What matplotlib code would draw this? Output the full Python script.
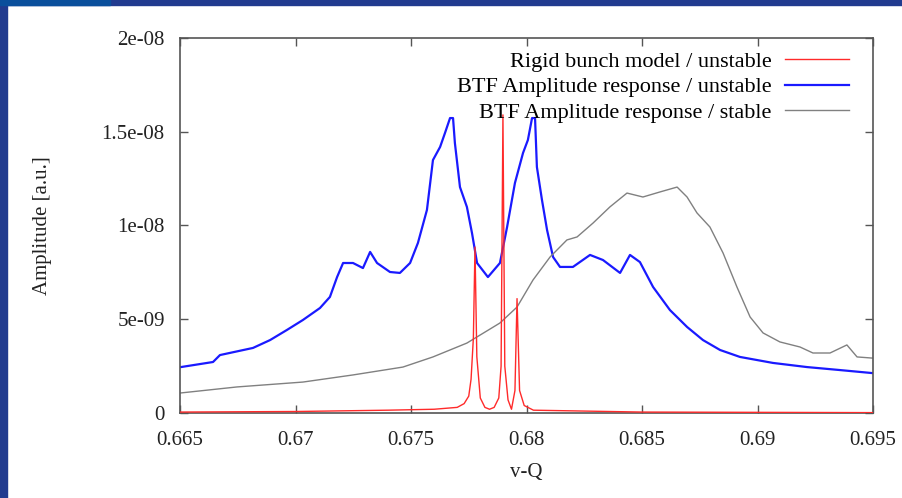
import matplotlib
matplotlib.use("Agg")
import matplotlib.pyplot as plt
from matplotlib.patches import Rectangle

# values (amplitudes in units of 1e-9)
blue_x = [0.66504, 0.66643, 0.66673, 0.66816, 0.66890, 0.66963, 0.67032, 0.67106,
          0.67149, 0.67180, 0.67206, 0.67249, 0.67292, 0.67323, 0.67353, 0.67409,
          0.67452, 0.67496, 0.67530, 0.67569, 0.67595, 0.67626, 0.67647, 0.67669,
          0.67682, 0.67690, 0.67712, 0.67742, 0.67764, 0.67786, 0.67833, 0.67885,
          0.67916, 0.67950, 0.67985, 0.68006, 0.68024, 0.68037, 0.68045, 0.68067,
          0.68089, 0.68115, 0.68145, 0.68201, 0.68275, 0.68331, 0.68405, 0.68448,
          0.68491, 0.68548, 0.68621, 0.68695, 0.68764, 0.68838, 0.68924, 0.69067,
          0.69214, 0.69357, 0.69496]
blue_y = [2.45, 2.72, 3.09, 3.47, 3.89, 4.43, 4.96, 5.60,
          6.19, 7.25, 8.00, 8.00, 7.73, 8.59, 8.00, 7.52,
          7.47, 8.00, 9.07, 10.83, 13.49, 14.19, 14.93, 15.73,
          15.73, 14.40, 12.05, 10.99, 9.60, 8.00, 7.25, 8.00,
          9.92, 12.27, 13.87, 14.56, 15.73, 15.73, 13.12, 11.36,
          9.76, 8.32, 7.79, 7.79, 8.43, 8.16, 7.47, 8.43,
          8.05, 6.72, 5.49, 4.59, 3.89, 3.36, 2.99, 2.67,
          2.45, 2.29, 2.13]

gray_x = [0.66504, 0.66747, 0.67032, 0.67249, 0.67465, 0.67595, 0.67742, 0.67885,
          0.67959, 0.68028, 0.68102, 0.68175, 0.68219, 0.68288, 0.68361, 0.68435,
          0.68504, 0.68578, 0.68652, 0.68695, 0.68738, 0.68794, 0.68851, 0.68911,
          0.68968, 0.69024, 0.69097, 0.69184, 0.69240, 0.69314, 0.69387, 0.69431,
          0.69496]
gray_y = [1.07, 1.39, 1.65, 2.03, 2.45, 2.99, 3.73, 4.80,
          5.65, 7.09, 8.32, 9.23, 9.39, 10.13, 10.99, 11.73,
          11.52, 11.79, 12.05, 11.52, 10.67, 9.92, 8.53, 6.72,
          5.12, 4.27, 3.79, 3.52, 3.20, 3.20, 3.63, 2.99,
          2.93]

red_x = [0.6650, 0.6700, 0.6740, 0.6760, 0.6770, 0.6773, 0.6775, 0.6776, 0.67770,
         0.67777, 0.67785, 0.6780, 0.6782, 0.6784, 0.6786, 0.6788, 0.67890,
         0.67898, 0.67906, 0.6792, 0.67935, 0.6795, 0.67959, 0.6797, 0.6799,
         0.6803, 0.6850, 0.6950]
red_y = [0.05, 0.08, 0.15, 0.2, 0.3, 0.5, 0.9, 1.8, 4.0,
         8.85, 3.0, 0.8, 0.3, 0.2, 0.3, 0.8, 2.5,
         15.9, 2.5, 0.7, 0.2, 1.2, 6.1, 1.2, 0.4,
         0.15, 0.05, 0.02]

labels = ["Rigid bunch model / unstable",
          "BTF Amplitude response / unstable",
          "BTF Amplitude response / stable"]
yticks = [0, 5e-9, 1e-8, 1.5e-8, 2e-8]
yticklabels = ["0", "5e-09", "1e-08", "1.5e-08", "2e-08"]
xticks = [0.665, 0.67, 0.675, 0.68, 0.685, 0.69, 0.695]

plt.rcParams['font.family'] = ['Liberation Serif', 'DejaVu Serif']

fig = plt.figure(figsize=(9.03, 4.98), dpi=100)
fig.patch.set_facecolor('white')
# slide border
fig.patches.append(Rectangle((0, 0), 7 / 903, 1, transform=fig.transFigure,
                             color='#213b8f', zorder=0))
fig.patches.append(Rectangle((0, 1 - 5 / 498), 1, 5 / 498, transform=fig.transFigure,
                             color='#213b8f', zorder=0))
fig.patches.append(Rectangle((0, 1 - 5 / 498), 110 / 903, 5 / 498, transform=fig.transFigure,
                             color='#0a4f9c', zorder=0))

ax = fig.add_axes([180 / 903, 1 - 413 / 498, 693 / 903, 375 / 498])

s = 1e-9
ax.plot(red_x, [v * s for v in red_y], color='#ff2a2a', lw=1.0, label=labels[0], zorder=3)
ax.plot(blue_x, [v * s for v in blue_y], color='#1a1aff', lw=1.6, label=labels[1], zorder=2)
ax.plot(gray_x, [v * s for v in gray_y], color='#808080', lw=1.0, label=labels[2], zorder=2)

ax.set_xlim(0.665, 0.695)
ax.set_ylim(0, 2e-8)
ax.set_xticks(xticks)
ax.set_xticklabels([f"{t:g}" for t in xticks])
ax.set_yticks(yticks)
ax.set_yticklabels(yticklabels)
ax.tick_params(direction='in', length=6, width=1, top=True, right=True,
               labelsize=15, colors='#555555', labelcolor='#222222')
ax.tick_params(axis='x', pad=13)
ax.tick_params(axis='y', pad=11)
for sp in ax.spines.values():
    sp.set_color('#555555')
    sp.set_linewidth(1.2)

ax.set_xlabel("v-Q", fontsize=15, color='#222222', labelpad=9)
ax.set_ylabel("Amplitude [a.u.]", fontsize=15, color='#222222', labelpad=36)

ax.legend(loc='upper right', frameon=False, markerfirst=False, fontsize=16,
          handlelength=2.9, handletextpad=0.59, labelspacing=0.22,
          borderaxespad=0.2, bbox_to_anchor=(0.985, 1.0))

fig.savefig("out.png", dpi=100)
